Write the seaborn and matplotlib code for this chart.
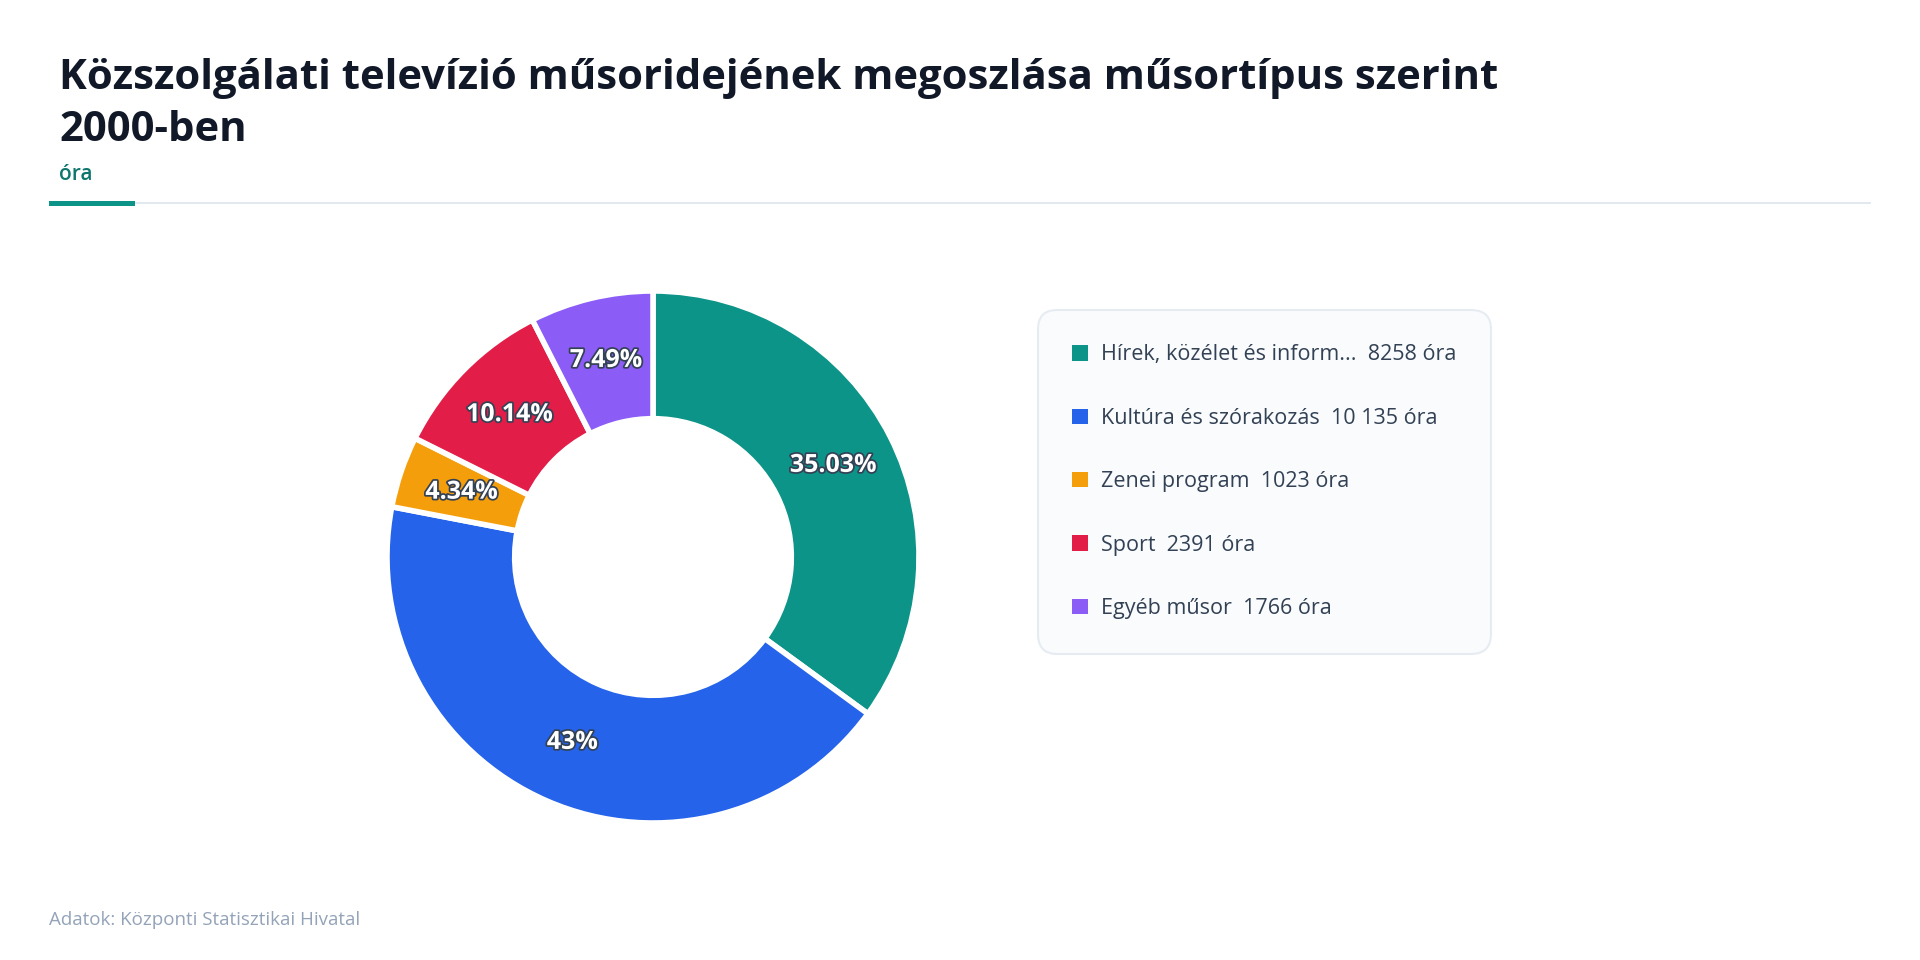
import numpy as np
import pandas as pd
import matplotlib.pyplot as plt
import matplotlib.patheffects as pe
from matplotlib.patches import Patch, Rectangle
import seaborn as sns

categories = ["Hírek, közélet és inform...", "Kultúra és szórakozás", "Zenei program", "Sport", "Egyéb műsor"]
hours = [8258, 10135, 1023, 2391, 1766]
pct_labels = ["35.03%", "43%", "4.34%", "10.14%", "7.49%"]
colors = ["#0d9488", "#2563eb", "#f59e0b", "#e11d48", "#8b5cf6"]

df = pd.DataFrame({"category": categories, "hours": hours, "pct": pct_labels})

sns.set_theme(style="white")
plt.rcParams['font.family'] = ['Open Sans', 'DejaVu Sans']


def fmt_hours(v):
    # 5+ digit numbers get a space as thousands separator, 4-digit ones don't
    if v >= 10000:
        return f"{v:,}".replace(",", " ")
    return str(v)


fig = plt.figure(figsize=(19.2, 9.6), dpi=100)
fig.patch.set_facecolor("white")

# header
fig.text(59 / 1920, 1 - 89 / 960, "Közszolgálati televízió műsoridejének megoszlása műsortípus szerint",
         fontsize=30.2, fontweight="bold", color="#111827", ha="left", va="baseline")
fig.text(59 / 1920, 1 - 141 / 960, "2000-ben",
         fontsize=30.2, fontweight="bold", color="#111827", ha="left", va="baseline")
fig.text(59 / 1920, 1 - 175 / 960, "óra", fontsize=15, fontweight="semibold",
         color="#0f766e", ha="left", va="center")
fig.add_artist(Rectangle((49 / 1920, 1 - 204 / 960), (1871 - 49) / 1920, 2 / 960,
                         transform=fig.transFigure, color="#e2e8f0", lw=0))
fig.add_artist(Rectangle((49 / 1920, 1 - 206 / 960), 86 / 1920, 5 / 960,
                         transform=fig.transFigure, color="#0d9488", lw=0))

# donut
cx, cy, r = 653, 557, 266
ax = fig.add_axes([(cx - r) / 1920, (960 - cy - r) / 960, 2 * r / 1920, 2 * r / 960])
palette = sns.color_palette(colors)
wedges, _ = ax.pie(df["hours"], colors=palette, startangle=90, counterclock=False,
                   radius=1.0,
                   wedgeprops=dict(width=0.48, edgecolor="white", linewidth=4, joinstyle="round"))
ax.set_xlim(-1, 1)
ax.set_ylim(-1, 1)
ax.set_aspect("equal")
ax.axis("off")

mid_r = 1 - 0.48 / 2
for w, lab in zip(wedges, df["pct"]):
    ang = np.deg2rad((w.theta1 + w.theta2) / 2)
    ax.text(mid_r * np.cos(ang), mid_r * np.sin(ang), lab, ha="center", va="center",
            fontsize=18, fontweight="bold", color="white",
            path_effects=[pe.withStroke(linewidth=2.5, foreground="#334155")])

# legend
handles = [Patch(facecolor=c, edgecolor="none") for c in colors]
labels = [f"{c}  {fmt_hours(v)} óra" for c, v in zip(df["category"], df["hours"])]
leg = fig.legend(handles, labels, loc="upper left", bbox_to_anchor=(1038 / 1920, 1 - 310 / 960),
                 bbox_transform=fig.transFigure, frameon=True, fancybox=True,
                 facecolor="#f8fafc", edgecolor="#e2e8f0", fontsize=15.5,
                 handlelength=0.72, handleheight=0.72, handletextpad=0.6,
                 labelspacing=1.97, borderpad=1.6, borderaxespad=0)
leg.get_frame().set_linewidth(1.5)
leg.get_frame().set_boxstyle("round,pad=0,rounding_size=0.9")
for t in leg.get_texts():
    t.set_color("#334155")

# footer
fig.text(49 / 1920, 1 - 920 / 960, "Adatok: Központi Statisztikai Hivatal",
         fontsize=13.5, color="#94a3b8", ha="left", va="center")

fig.savefig("out.png", dpi=100, facecolor="white")
